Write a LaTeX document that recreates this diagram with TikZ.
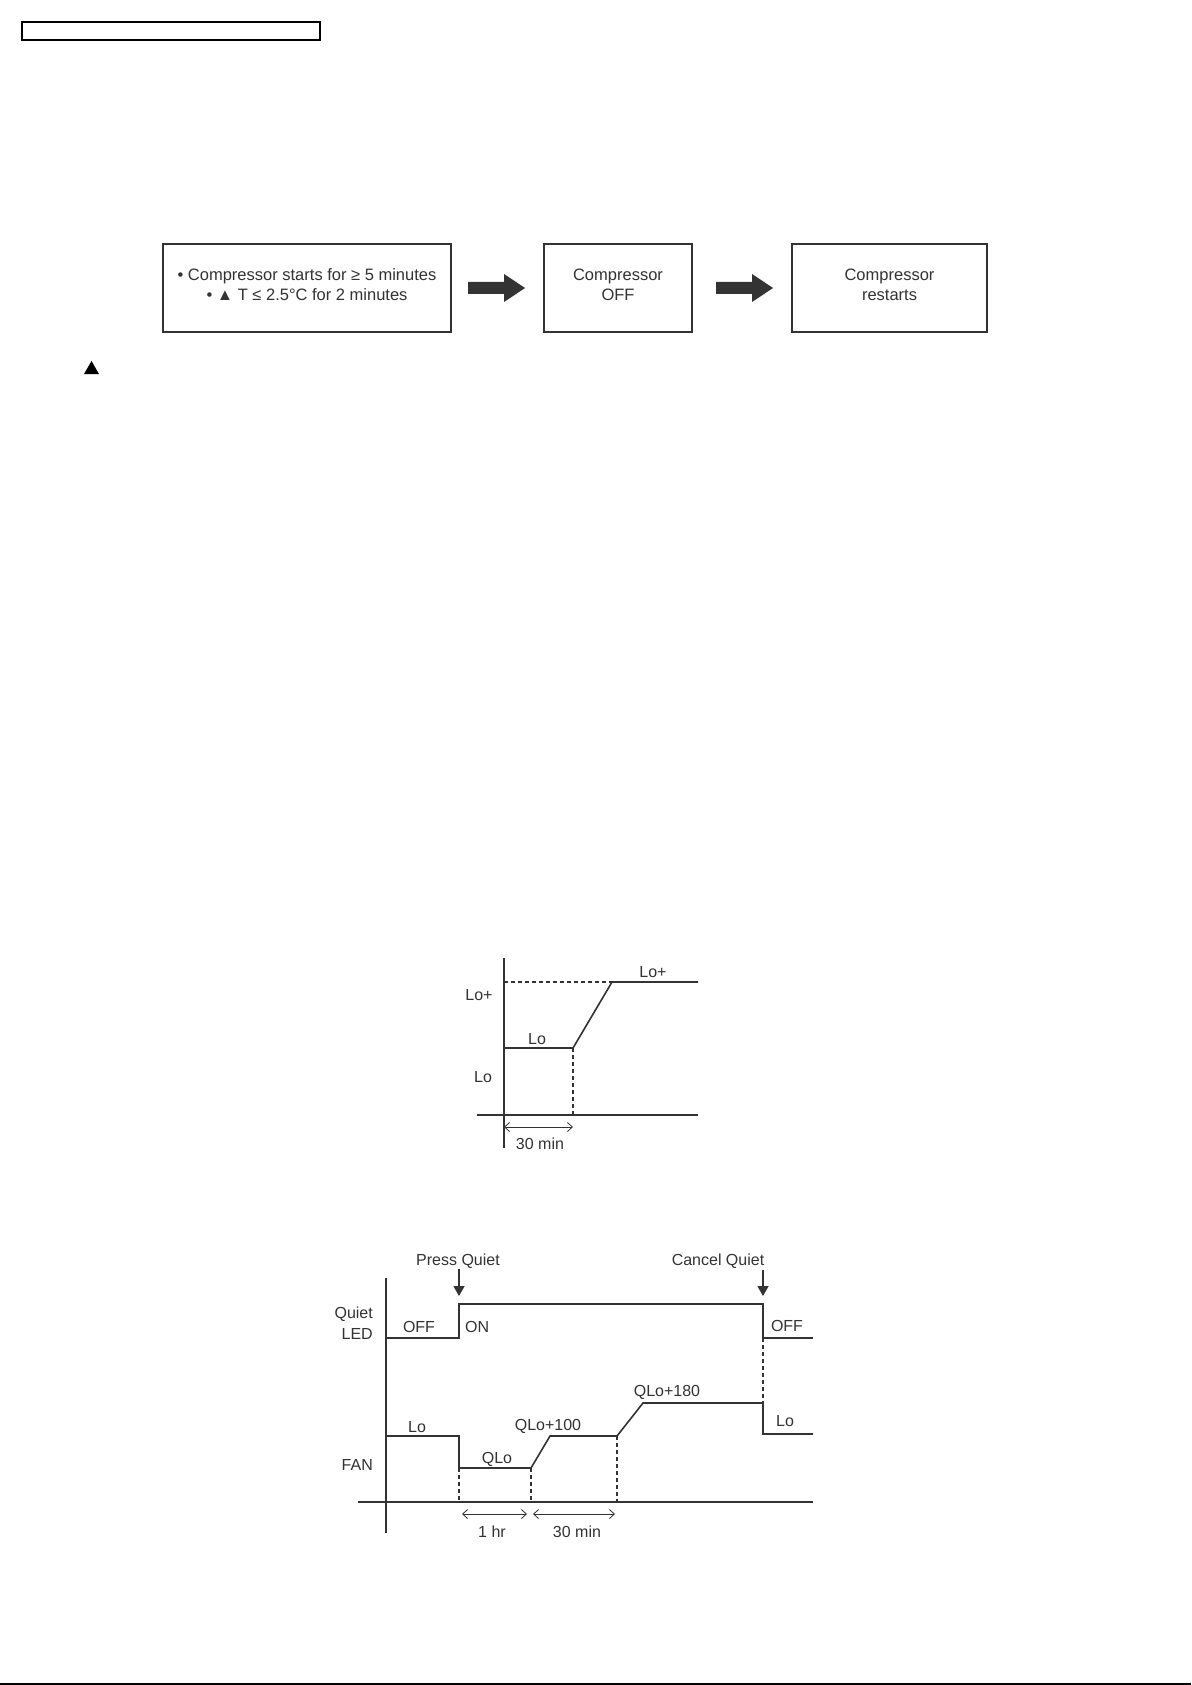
\documentclass[tikz,border=0pt]{standalone}
\usepackage{fontspec}
\setmainfont{Liberation Sans}
\usetikzlibrary{arrows.meta}
\definecolor{ink}{HTML}{333333}
\begin{document}
\begin{tikzpicture}[x=1pt,y=-1pt,
  box/.style={draw=ink, line width=2pt, inner sep=0pt, align=center,
    font=\fontsize{16.5}{20}\selectfont, text=ink, text depth=6.5pt},
  lbl/.style={font=\fontsize{16}{21}\selectfont, text=ink, inner sep=0pt},
  curve/.style={draw=ink, line width=1.6pt, line join=miter},
  axis/.style={draw=ink, line width=1.4pt},
  guide/.style={draw=ink, line width=1.2pt, dash pattern=on 4pt off 3pt},
  span/.style={draw=ink, line width=0.8pt,
    {Straight Barb[length=5pt,width=9pt]}-{Straight Barb[length=5pt,width=9pt]}},
  push/.style={draw=ink, line width=1.4pt, -{Triangle[length=10pt,width=11pt]}},
  blockarrow/.style={fill=ink}]
\useasboundingbox (0,0) rectangle (1191,1685);
\fill[white] (0,0) rectangle (1191,1685);

% header frame and bottom rule
\draw[line width=1.3pt] (22,22) rectangle (320,40);
\draw[line width=2pt] (0,1684) -- (1191,1684);

% flow boxes
\node[box, minimum width=288pt, minimum height=88pt] (b1) at (307,288)
  {• Compressor starts for ≥ 5 minutes\\• ▲ T ≤ 2.5°C for 2 minutes};
\node[box, minimum width=148pt, minimum height=88pt] (b2) at (618,288)
  {Compressor\\OFF};
\node[box, minimum width=195pt, minimum height=88pt] (b3) at (889.5,288)
  {Compressor\\restarts};
\fill[blockarrow] (468,282) -- (504,282) -- (504,274) -- (525,288) -- (504,302) -- (504,294) -- (468,294) -- cycle;
\fill[blockarrow] (716,282) -- (752,282) -- (752,274) -- (773,288) -- (752,302) -- (752,294) -- (716,294) -- cycle;

% lone triangle mark
\fill[black] (84,374) -- (99,374) -- (91.5,361) -- cycle;

% ---------- chart 1 ----------
\draw[axis] (504,958) -- (504,1148);
\draw[axis] (477,1115) -- (698,1115);
\draw[guide] (504,982) -- (612,982);
\draw[guide] (573,1048) -- (573,1115);
\draw[curve] (504,1048) -- (573,1048) -- (612,982) -- (698,982);
\draw[span] (504,1127) -- (573,1127);
\node[lbl] (c1a) at (653,972) {Lo+};
\node[lbl] (c1b) at (479,995) {Lo+};
\node[lbl] (c1c) at (537,1039) {Lo};
\node[lbl] (c1d) at (483,1077) {Lo};
\node[lbl] (c1e) at (540,1144) {30 min};

% ---------- chart 2 ----------
\draw[axis] (386,1278) -- (386,1533);
\draw[axis] (358,1502) -- (813,1502);
\draw[guide] (459,1468) -- (459,1502);
\draw[guide] (531,1468) -- (531,1502);
\draw[guide] (617,1436) -- (617,1502);
\draw[guide] (763,1338) -- (763,1403);
\draw[curve] (386,1338) -- (459,1338) -- (459,1304) -- (763,1304) -- (763,1338) -- (813,1338);
\draw[curve] (386,1436) -- (459,1436) -- (459,1468) -- (531,1468) -- (550,1436)
  -- (617,1436) -- (643,1403) -- (763,1403) -- (763,1434) -- (813,1434);
\draw[span] (462,1514) -- (527,1514);
\draw[span] (533,1514) -- (615,1514);
\draw[push] (459,1269) -- (459,1296);
\draw[push] (763,1270) -- (763,1296);

\node[lbl] (pq) at (458,1261) {Press Quiet};
\node[lbl] (cq) at (718,1261) {Cancel Quiet};
\node[lbl, align=right, anchor=east] (led) at (373,1323) {Quiet\\LED};
\node[lbl, anchor=east] (fan) at (373,1465) {FAN};
\node[lbl] (off1) at (419,1327) {OFF};
\node[lbl, anchor=west] (on) at (465,1327) {ON};
\node[lbl] (off2) at (787,1326) {OFF};
\node[lbl] (lo1) at (417,1427) {Lo};
\node[lbl] (qlo) at (497,1459) {QLo};
\node[lbl] (q100) at (548,1426) {QLo+100};
\node[lbl] (q180) at (667,1392) {QLo+180};
\node[lbl] (lo2) at (785,1421) {Lo};
\node[lbl] (hr) at (492,1532) {1 hr};
\node[lbl] (m30) at (577,1532) {30 min};
\end{tikzpicture}
\end{document}
